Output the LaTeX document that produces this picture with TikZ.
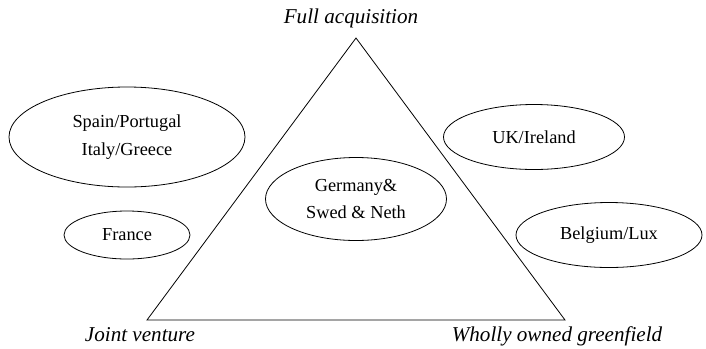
\documentclass[tikz,border=0pt]{standalone}
\usepackage{fontspec}
\setmainfont{Liberation Serif}
\usetikzlibrary{shapes.geometric}

\begin{document}
\begin{tikzpicture}[
		x=1bp, y=-1bp,
		line width=0.8bp,
		every node/.style={font=\fontsize{18.4}{28}\selectfont, inner sep=0pt},
		country/.style={ellipse, draw, align=center},
		mode/.style={anchor=base, font=\fontsize{21.2}{24}\selectfont\itshape}
	]
  \useasboundingbox (0,0) rectangle (706,348);
  % corners of the triangle
  \coordinate (top) at (356,38);
  \coordinate (left) at (147,320);
  \coordinate (right) at (565,320);
  \draw (top) -- (left) -- (right) -- cycle;
  \node (full) [mode] at (351,23) {Full acquisition};
  \node (jv) [mode] at (140,341) {Joint venture};
  \node (wog) [mode] at (557,341) {Wholly owned greenfield};
  % countries
  \node (spain) [country, minimum width=236bp, minimum height=100bp] at (127,137) {Spain/Portugal\\Italy/Greece};
  \node (france) [country, minimum width=126bp, minimum height=48bp] at (127,235) {France};
  \node (germany) [country, minimum width=181bp, minimum height=83bp] at (356,199) {Germany\&\\Swed \& Neth};
  \node (uk) [country, minimum width=181bp, minimum height=65bp] at (534,137) {UK/Ireland};
  \node (belgium) [country, minimum width=186bp, minimum height=65bp] at (609,235) {Belgium/Lux};
\end{tikzpicture}
\end{document}
